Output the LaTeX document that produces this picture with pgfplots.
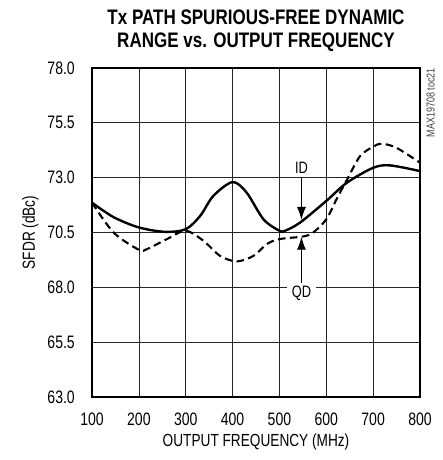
\documentclass[border=0pt]{standalone}
\usepackage{fontspec}
\setmainfont[FakeStretch=0.78]{Liberation Sans}
\newfontfamily\titlefont[FakeStretch=0.81]{Liberation Sans Bold}
\usepackage{pgfplots}
\pgfplotsset{compat=1.18}
\usetikzlibrary{arrows.meta,calc}

\begin{document}
\begin{tikzpicture}
\begin{axis}[
    name=ax,
    scale only axis,
    width=328pt, height=329pt,
    xmin=100, xmax=800,
    ymin=63, ymax=78,
    xtick={100,200,...,800},
    ytick={63,65.5,68,70.5,73,75.5,78},
    yticklabel style={anchor=east, inner sep=0pt, xshift=-17pt},
    yticklabel style={/pgf/number format/fixed, /pgf/number format/fixed zerofill, /pgf/number format/precision=1},
    xticklabel style={anchor=base, inner sep=0pt, yshift=-28pt},
    /pgf/number format/assume math mode=true,
    tick style={draw=none},
    ticklabel style={font=\fontsize{18}{20}\selectfont},
    grid=major,
    major grid style={black!85, line width=0.7pt},
    axis line style={line width=2.6pt},
    clip=false,
]
% ID (solid)
\addplot[black, line width=2.4pt, smooth] coordinates {
    (100,71.86) (146,71.2) (200,70.73) (256,70.53) (300,70.65) (331,71.26)
    (359,72.17) (400,72.8) (430,72.32) (466,71.1) (500,70.58) (512,70.58)
    (544,70.95) (600,71.94) (644,72.77) (700,73.45) (736,73.56) (800,73.3)
};
% QD (dashed)
\addplot[black, line width=2.1pt, dash pattern=on 7.5pt off 4.5pt, smooth] coordinates {
    (100,71.86) (146,70.5) (200,69.71) (217,69.74) (260,70.2) (300,70.58)
    (338,70.12) (373,69.44) (409,69.18) (445,69.44) (473,69.97) (500,70.2)
    (551,70.32) (572,70.5) (600,71.1) (622,72.02) (644,72.9) (672,73.98)
    (700,74.41) (718,74.55) (750,74.36) (800,73.68)
};
% annotations
\node[fill=white, inner xsep=7pt, inner ysep=1pt, font=\fontsize{16.5}{18}\selectfont] at (axis cs:547,73.46) {ID};
\draw[-{Latex[length=13pt,width=9pt]}, line width=1.3pt] (axis cs:547,72.97) -- (axis cs:547,71.07);
\node[fill=white, inner xsep=5pt, inner ysep=1pt, font=\fontsize{16.5}{18}\selectfont] at (axis cs:547,67.74) {QD};
\draw[-{Latex[length=13pt,width=9pt]}, line width=1.3pt] (axis cs:547,68.2) -- (axis cs:547,70.31);
\end{axis}
% title and axis labels
\node[anchor=base, font=\titlefont\fontsize{21}{23}\selectfont] at ($(ax.north)+(0,43pt)$) {Tx PATH SPURIOUS-FREE DYNAMIC};
\node[anchor=base, font=\titlefont\fontsize{21}{23}\selectfont] at ($(ax.north)+(0,20pt)$) {RANGE vs. OUTPUT FREQUENCY};
\node[anchor=base, font=\fontsize{17.5}{19}\selectfont] at ($(ax.south)+(0,-49pt)$) {OUTPUT FREQUENCY (MHz)};
\node[anchor=base, rotate=90, font=\fontsize{17.5}{19}\selectfont] at ($(ax.west)+(-57pt,0)$) {SFDR (dBc)};
\node[rotate=90, anchor=south east, font=\fontsize{11.5}{13}\selectfont, text=black!75, inner sep=0pt]
    at ($(ax.north east)+(15pt,0pt)$) {MAX19708 toc21};
\path[use as bounding box] ($(ax.south west)+(-92pt,-63pt)$) rectangle ($(ax.north east)+(23pt,68pt)$);
\end{tikzpicture}
\end{document}
